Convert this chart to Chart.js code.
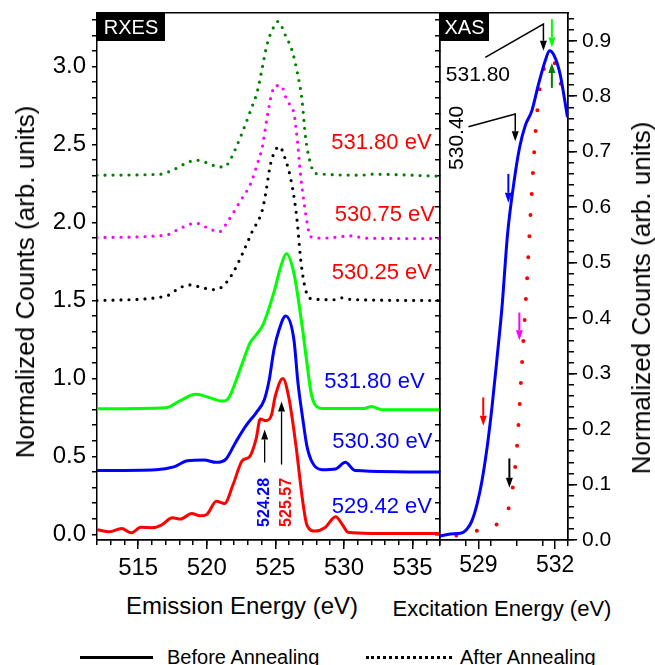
<!DOCTYPE html>
<html lang="en">
<head>
<meta charset="UTF-8">
<title>RXES / XAS</title>
<script src="https://cdn.jsdelivr.net/npm/chart.js@4"></script>
<style>
  body { margin: 0; background: #fff; }
  .wrap { position: relative; width: 655px; height: 665px; overflow: hidden;
          font-family: 'Liberation Sans', Arial, sans-serif; color: #000; }
  canvas { position: absolute; top: 0; }
  #rxes { left: 0; }
  #xas { left: 420px; }
  .t { position: absolute; white-space: nowrap; transform: translate(-50%, -50%); line-height: 1; }
  .rot { transform: translate(-50%, -50%) rotate(-90deg); }
  .leg { position: absolute; white-space: nowrap; transform: translateY(-50%); font-size: 20px; line-height: 1; }
  .line { position: absolute; height: 0; }
</style>
</head>
<body>
<div class="wrap">
  <canvas id="rxes" width="445" height="580"></canvas>
  <canvas id="xas" width="235" height="580"></canvas>

  <div class="t rot" style="left:25px; top:282px; font-size:26px;">Normalized Counts (arb. units)</div>
  <div class="t rot" style="left:641px; top:298px; font-size:26px;">Normalized Counts (arb. units)</div>
  <div class="t" style="left:242px; top:606px; font-size:24px;">Emission Energy (eV)</div>
  <div class="t" style="left:502px; top:609px; font-size:22px;">Excitation Energy (eV)</div>

  <div class="line" style="left:80px; top:656px; width:73px; border-top:3px solid #000;"></div>
  <div class="leg" style="left:167px; top:657px;">Before Annealing</div>
  <div class="line" style="left:366px; top:656px; width:86px; border-top:3px dotted #000;"></div>
  <div class="leg" style="left:460px; top:657px;">After Annealing</div>
</div>

<script>
    // ---- RXES spectra (emission energy in eV, normalized counts) ----
    // before annealing (solid)
    const e529_42 = [512.0, 512.9, 513.8, 514.5, 515.2, 516.0, 516.7, 517.5, 518.1, 518.9, 519.5, 520.0, 520.7, 521.3, 521.9, 522.6, 523.1, 523.6, 523.9, 524.3, 524.7, 525.0, 525.55, 526.0, 526.5, 527.0, 527.3, 527.9, 528.6, 529.4, 529.9, 530.3, 532.0, 537.0];
    const c529_42 = [0.03, 0.017, 0.038, 0.01, 0.045, 0.043, 0.06, 0.106, 0.098, 0.134, 0.119, 0.128, 0.213, 0.198, 0.315, 0.474, 0.496, 0.613, 0.74, 0.73, 0.761, 0.889, 1.0, 0.868, 0.57, 0.209, 0.06, 0.021, 0.043, 0.113, 0.06, 0.013, 0.006, 0.006];

    const e530_30 = [512.0, 516.3, 517.6, 518.6, 519.8, 520.7, 521.4, 522.1, 522.85, 523.6, 524.2, 524.55, 524.9, 525.3, 525.75, 526.35, 526.65, 527.0, 527.3, 527.7, 528.4, 529.4, 530.1, 530.8, 537.0];
    const c530_30 = [0.41, 0.415, 0.433, 0.472, 0.477, 0.462, 0.483, 0.59, 0.696, 0.78, 0.865, 0.99, 1.185, 1.32, 1.4, 1.25, 0.97, 0.74, 0.566, 0.46, 0.415, 0.42, 0.462, 0.41, 0.40];

    const e531_80b = [512.0, 517.0, 518.0, 519.2, 520.2, 521.1, 521.5, 521.8, 522.15, 522.6, 523.15, 523.6, 524.1, 524.95, 525.4, 525.8, 526.35, 526.95, 527.3, 527.6, 527.9, 528.4, 531.5, 532.0, 532.75, 537.0];
    const c531_80b = [0.805, 0.812, 0.855, 0.898, 0.877, 0.855, 0.865, 0.91, 0.99, 1.1, 1.228, 1.28, 1.345, 1.57, 1.72, 1.80, 1.676, 1.336, 1.1, 0.908, 0.83, 0.808, 0.808, 0.82, 0.80, 0.80];

    // after annealing (dotted)
    const e530_25 = [512.0, 517.0, 518.0, 518.75, 519.8, 520.4, 521.15, 521.9, 522.6, 523.3, 524.05, 524.3, 524.66, 525.3, 525.75, 526.1, 526.4, 526.6, 526.85, 527.2, 527.67, 529.3, 529.85, 530.58, 537.0];
    const c530_25 = [1.50, 1.527, 1.58, 1.60, 1.58, 1.57, 1.59, 1.676, 1.80, 1.94, 2.08, 2.19, 2.38, 2.487, 2.40, 2.29, 2.14, 2.0, 1.76, 1.57, 1.51, 1.505, 1.517, 1.506, 1.50];

    const e530_75 = [512.0, 517.05, 518.0, 519.2, 520.2, 520.9, 521.6, 522.5, 523.2, 523.7, 524.05, 524.4, 524.73, 525.0, 525.4, 525.86, 526.35, 526.6, 526.83, 527.07, 527.2, 527.56, 528.4, 530.6, 531.5, 537.0];
    const c530_75 = [1.904, 1.92, 1.96, 1.996, 1.96, 1.94, 2.017, 2.146, 2.25, 2.38, 2.485, 2.676, 2.825, 2.878, 2.878, 2.78, 2.70, 2.53, 2.31, 2.14, 2.06, 1.91, 1.90, 1.914, 1.90, 1.897];

    const e531_80a = [512.0, 516.6, 517.5, 518.6, 519.2, 520.2, 520.8, 521.3, 521.6, 522.1, 522.6, 523.2, 523.7, 524.05, 524.4, 524.8, 525.2, 525.75, 526.23, 526.6, 526.95, 527.2, 527.5, 527.9, 531.3, 532.0, 537.0];
    const c531_80a = [2.304, 2.31, 2.336, 2.385, 2.40, 2.378, 2.357, 2.357, 2.385, 2.474, 2.58, 2.72, 2.846, 2.995, 3.144, 3.24, 3.29, 3.197, 3.10, 2.963, 2.78, 2.548, 2.40, 2.315, 2.304, 2.31, 2.297];

    // ---- XAS (excitation energy in eV) ----
    const xasBeforeE = [527.5, 527.91, 528.3, 528.56, 528.75, 528.95, 529.14, 529.34, 529.53, 529.73, 529.92, 530.14, 530.38, 530.61, 530.83, 531.09, 531.35, 531.61, 531.78, 531.96, 532.19, 532.48];
    const xasBeforeC = [0.007, 0.011, 0.012, 0.02, 0.035, 0.065, 0.107, 0.167, 0.239, 0.329, 0.419, 0.552, 0.642, 0.708, 0.747, 0.774, 0.822, 0.864, 0.882, 0.873, 0.84, 0.762];
    const xasAfterE = [528.14, 528.88, 529.6, 530.17, 530.34, 530.51, 530.71, 530.91, 531.09, 531.25, 531.42, 531.65, 531.89, 532.13, 532.42];
    const xasAfterC = [0.008, 0.016, 0.025, 0.056, 0.094, 0.17, 0.324, 0.478, 0.631, 0.746, 0.822, 0.859, 0.869, 0.832, 0.805];

    // labelled tick values
    const rxesMajorTicks = [515, 520, 525, 530, 535];
    const xasMajorTicks = [529, 532];

    // labels and arrows, in data coordinates
    const rxesTexts = [
        { text: '531.80 eV', x: 532.73, y: 2.511, color: '#ff0000' },
        { text: '530.75 eV', x: 532.98, y: 2.05, color: '#ff0000' },
        { text: '530.25 eV', x: 532.76, y: 1.678, color: '#ff0000' },
        { text: '531.80 eV', x: 532.22, y: 0.98, color: '#0000ff' },
        { text: '530.30 eV', x: 532.8, y: 0.596, color: '#0000ff' },
        { text: '529.42 eV', x: 532.76, y: 0.179, color: '#0000ff' },
        { text: '524.28', x: 524.25, y: 0.205, color: '#0000ff', size: 16, bold: true, rot: true },
        { text: '525.57', x: 525.82, y: 0.205, color: '#ff0000', size: 16, bold: true, rot: true }
    ];
    const rxesArrows = [
        { pts: [[524.22, 0.461], [524.22, 0.673]], color: '#000', width: 1.3 },
        { pts: [[525.45, 0.448], [525.45, 0.852]], color: '#000', width: 1.3 }
    ];
    const xasTexts = [
        { text: '531.80', x: 528.98, y: 0.838, color: '#000', size: 21 },
        { text: '530.40', x: 528.18, y: 0.725, color: '#000', size: 21, rot: true }
    ];
    const xasArrows = [
        { pts: [[529.27, 0.870], [531.54, 0.930], [531.54, 0.882]], color: '#000', width: 1.5 },
        { pts: [[528.61, 0.745], [530.44, 0.768], [530.44, 0.719]], color: '#000', width: 1.5 },
        { pts: [[531.87, 0.939], [531.87, 0.888]], color: '#00ff00', width: 2 },
        { pts: [[531.87, 0.815], [531.87, 0.860]], color: '#008000', width: 2 },
        { pts: [[530.17, 0.66], [530.17, 0.608]], color: '#0000ff', width: 2 },
        { pts: [[530.6, 0.41], [530.6, 0.36]], color: '#ff00ff', width: 2 },
        { pts: [[529.19, 0.257], [529.19, 0.206]], color: '#ff0000', width: 2 },
        { pts: [[530.21, 0.147], [530.21, 0.094]], color: '#000', width: 2 }
    ];

    const FONT = "'Liberation Sans', Arial, sans-serif";
    Chart.defaults.font.family = FONT;
    Chart.defaults.color = '#000';

    let xy = (xs, ys) => xs.map((v, i) => ({ x: v, y: ys[i] }));

    let solid = (xs, ys, color) => ({
        data: xy(xs, ys), showLine: true, borderColor: color, borderWidth: 3,
        pointRadius: 0, cubicInterpolationMode: 'monotone'
    });
    let dotted = (xs, ys, color, width, gap) => ({
        data: xy(xs, ys), showLine: true, borderColor: color, borderWidth: width,
        borderDash: [0, gap], borderCapStyle: 'round',
        pointRadius: 0, cubicInterpolationMode: 'monotone'
    });

    // fixed scale size, no extra label padding so both panels line up
    let fixSize = (w, h) => s => {
        if (w !== null) s.width = w;
        if (h !== null) s.height = h;
        s.paddingTop = s.paddingBottom = s.paddingLeft = s.paddingRight = 0;
    };

    function drawArrow(ctx, pts, color, width) {
        ctx.strokeStyle = color;
        ctx.fillStyle = color;
        ctx.lineWidth = width;
        const n = pts.length;
        const [x1, y1] = pts[n - 2], [x2, y2] = pts[n - 1];
        const a = Math.atan2(y2 - y1, x2 - x1);
        const len = 10, half = 3.5;
        const bx = x2 - len * Math.cos(a), by = y2 - len * Math.sin(a);
        ctx.beginPath();
        pts.forEach((p, i) => {
            if (i === 0) ctx.moveTo(p[0], p[1]);
            else if (i === n - 1) ctx.lineTo(bx, by);
            else ctx.lineTo(p[0], p[1]);
        });
        ctx.stroke();
        ctx.beginPath();
        ctx.moveTo(x2, y2);
        ctx.lineTo(bx + half * Math.sin(a), by - half * Math.cos(a));
        ctx.lineTo(bx - half * Math.sin(a), by + half * Math.cos(a));
        ctx.closePath();
        ctx.fill();
    }

    // tag box, texts and arrows on top of the data
    const annotate = {
        id: 'annotate',
        afterDatasetsDraw(chart, args, opts) {
            const { ctx, chartArea } = chart;
            const xs = chart.scales.x, ys = chart.scales.y;
            ctx.save();
            ctx.fillStyle = '#000';
            ctx.fillRect(chartArea.left, chartArea.top, opts.tagW, 28);
            ctx.fillStyle = '#fff';
            ctx.font = `20px ${FONT}`;
            ctx.textAlign = 'center';
            ctx.textBaseline = 'middle';
            ctx.fillText(opts.tag, chartArea.left + opts.tagW / 2, chartArea.top + 15);

            opts.texts.forEach(t => {
                const px = xs.getPixelForValue(t.x), py = ys.getPixelForValue(t.y);
                ctx.save();
                ctx.translate(px, py);
                if (t.rot) ctx.rotate(-Math.PI / 2);
                ctx.fillStyle = t.color;
                ctx.font = `${t.bold ? 'bold ' : ''}${t.size || 22}px ${FONT}`;
                ctx.textAlign = 'center';
                ctx.textBaseline = 'middle';
                ctx.fillText(t.text, 0, 0);
                ctx.restore();
            });
            opts.arrows.forEach(a => {
                const pts = a.pts.map(p => [xs.getPixelForValue(p[0]), ys.getPixelForValue(p[1])]);
                drawArrow(ctx, pts, a.color, a.width);
            });
            ctx.restore();
        }
    };

    const border = { display: true, color: '#000', width: 1.5 };
    const frameOnly = (pos, min, max, fit) => ({
        type: 'linear', position: pos, min, max,
        grid: { display: false }, ticks: { display: false }, border, afterFit: fit
    });

    new Chart(document.getElementById('rxes'), {
        type: 'scatter',
        data: {
            datasets: [
                solid(e529_42, c529_42, '#ff0000'),
                solid(e530_30, c530_30, '#0000ff'),
                solid(e531_80b, c531_80b, '#00ff00'),
                dotted(e530_25, c530_25, '#000000', 3.2, 8),
                dotted(e530_75, c530_75, '#ff00ff', 3.2, 8),
                dotted(e531_80a, c531_80a, '#008000', 3.2, 8)
            ]
        },
        options: {
            responsive: false,
            animation: false,
            layout: { padding: { top: 13, right: 5, left: 0, bottom: 0 } },
            plugins: {
                legend: { display: false },
                tooltip: { enabled: false },
                annotate: { tag: 'RXES', tagW: 68, texts: rxesTexts, arrows: rxesArrows }
            },
            scales: {
                xMinor: {
                    type: 'linear', position: 'bottom', weight: 0, min: 512, max: 537,
                    grid: { display: true, drawOnChartArea: false, tickLength: 5, color: '#000', lineWidth: 1.5 },
                    ticks: { display: false, stepSize: 1, autoSkip: false },
                    border,
                    afterFit: fixSize(null, 0)
                },
                x: {
                    type: 'linear', position: 'bottom', weight: 1, min: 512, max: 537,
                    grid: { display: true, drawOnChartArea: false, tickLength: 9, color: '#000', lineWidth: 1.5 },
                    ticks: { autoSkip: false, maxRotation: 0, minRotation: 0, padding: 5, font: { size: 24 } },
                    afterBuildTicks: s => { s.ticks = rxesMajorTicks.map(v => ({ value: v })); },
                    border,
                    afterFit: fixSize(null, 40)
                },
                xTop: frameOnly('top', 512, 537, fixSize(null, 0)),
                y: {
                    type: 'linear', position: 'left', min: -0.036, max: 3.344,
                    grid: { display: true, drawOnChartArea: false, tickLength: 5, color: '#000', lineWidth: 1.5 },
                    ticks: {
                        stepSize: 0.1, includeBounds: false, autoSkip: false, padding: 6, font: { size: 24 },
                        callback: v => Math.abs(v * 2 - Math.round(v * 2)) < 1e-6 ? v.toFixed(1) : ''
                    },
                    border,
                    afterFit: fixSize(97, null)
                },
                yRight: {
                    type: 'linear', position: 'right', min: -0.036, max: 3.344,
                    grid: { display: true, drawOnChartArea: false, tickLength: -5, color: '#000', lineWidth: 1.5 },
                    ticks: { display: false, stepSize: 0.1, includeBounds: false, autoSkip: false },
                    border,
                    afterFit: fixSize(0, null)
                }
            }
        },
        plugins: [annotate]
    });

    new Chart(document.getElementById('xas'), {
        type: 'scatter',
        data: {
            datasets: [
                solid(xasBeforeE, xasBeforeC, '#0000ff'),
                dotted(xasAfterE, xasAfterC, '#ff0000', 4, 21)
            ]
        },
        options: {
            responsive: false,
            animation: false,
            layout: { padding: { top: 13, right: 0, left: 20, bottom: 0 } },
            plugins: {
                legend: { display: false },
                tooltip: { enabled: false },
                annotate: { tag: 'XAS', tagW: 49, texts: xasTexts, arrows: xasArrows }
            },
            scales: {
                xMinor: {
                    type: 'linear', position: 'bottom', weight: 0, min: 527.5, max: 532.5,
                    grid: { display: true, drawOnChartArea: false, tickLength: 6, color: '#000', lineWidth: 1.5 },
                    ticks: { display: false, stepSize: 1, includeBounds: false, autoSkip: false },
                    border,
                    afterFit: fixSize(null, 0)
                },
                x: {
                    type: 'linear', position: 'bottom', weight: 1, min: 527.5, max: 532.5,
                    grid: { display: true, drawOnChartArea: false, tickLength: 9, color: '#000', lineWidth: 1.5 },
                    ticks: { autoSkip: false, maxRotation: 0, minRotation: 0, padding: 3, font: { size: 23 } },
                    afterBuildTicks: s => { s.ticks = xasMajorTicks.map(v => ({ value: v })); },
                    border,
                    afterFit: fixSize(null, 40)
                },
                xTop: frameOnly('top', 527.5, 532.5, fixSize(null, 0)),
                yLeft: frameOnly('left', 0, 0.95, fixSize(0, null)),
                yMinor: {
                    type: 'linear', position: 'right', weight: 0, min: 0, max: 0.95,
                    grid: { display: true, drawOnChartArea: false, tickLength: 6, color: '#000', lineWidth: 1.5 },
                    ticks: { display: false, stepSize: 0.02, includeBounds: false, autoSkip: false },
                    border,
                    afterFit: fixSize(0, null)
                },
                y: {
                    type: 'linear', position: 'right', weight: 1, min: 0, max: 0.95,
                    grid: { display: true, drawOnChartArea: false, tickLength: 9, color: '#000', lineWidth: 1.5 },
                    ticks: {
                        stepSize: 0.1, includeBounds: false, autoSkip: false, padding: 5, font: { size: 21 },
                        callback: v => v.toFixed(1)
                    },
                    border,
                    afterFit: fixSize(87, null)
                }
            }
        },
        plugins: [annotate]
    });
</script>
</body>
</html>
